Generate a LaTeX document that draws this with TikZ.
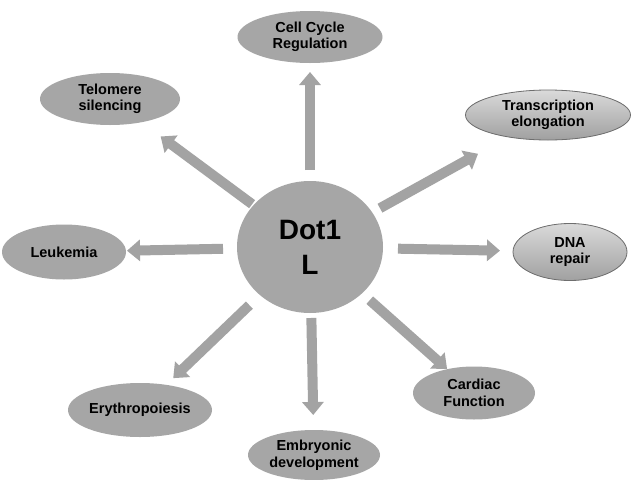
\documentclass[tikz,border=0pt]{standalone}
\usepackage{fontspec}
\setmainfont{Liberation Sans}
\usetikzlibrary{shapes.geometric,arrows.meta,calc}
\definecolor{fillgray}{HTML}{A6A6A6}
\definecolor{arrgray}{HTML}{A3A3A3}
\definecolor{edgegray}{HTML}{6E6E6E}
\definecolor{shinetop}{HTML}{DADADA}
\definecolor{shinebot}{HTML}{A0A0A0}
\begin{document}
\begin{tikzpicture}[x=1pt,y=-1pt,
  blob/.style={ellipse, fill=fillgray, inner sep=0pt, align=center,
    font=\bfseries\fontsize{14.5}{16.5}\selectfont},
  shiny/.style={blob, top color=shinetop, bottom color=shinebot, draw=edgegray, line width=0.8pt},
  arr/.style={draw=arrgray, line width=10pt, -{Triangle[width=21pt,length=13pt]}}]
\useasboundingbox (0,0) rectangle (633,480);
\fill[white] (0,0) rectangle (633,480);

\node[blob, minimum width=146pt, minimum height=132pt,
  font=\bfseries\fontsize{28}{35}\selectfont] (dot) at (310,247) {Dot1\\L};

\node[blob, minimum width=145pt, minimum height=52pt] (cell) at (310,37) {Cell Cycle\\Regulation};
\node[shiny, minimum width=165pt, minimum height=50pt] (trans) at (548,115) {Transcription\\elongation};
\node[blob, minimum width=140pt, minimum height=52pt] (telo) at (110,99) {Telomere\\silencing};
\node[blob, minimum width=124pt, minimum height=55pt] (leuk) at (64,252) {Leukemia};
\node[shiny, minimum width=114pt, minimum height=57pt] (dna) at (570,252) {DNA\\repair};
\node[blob, minimum width=144pt, minimum height=54pt] (eryth) at (140,410) {Erythropoiesis};
\node[blob, minimum width=132pt, minimum height=50pt] (embr) at (314,455) {Embryonic\\development};
\node[blob, minimum width=122pt, minimum height=53pt] (card) at (474,393) {Cardiac\\Function};

\draw[arr] ($(dot)!77pt!(cell)$) -- ($(cell)!35pt!(dot)$);
\draw[arr] ($(dot)!72pt!(telo)$) -- ($(telo)!63pt!(dot)$);
\draw[arr] ($(dot)!80pt!(trans)$) -- ($(trans)!80pt!(dot)$);
\draw[arr] ($(dot)!87pt!(leuk)$) -- ($(leuk)!63pt!(dot)$);
\draw[arr] ($(dot)!88pt!(dna)$) -- ($(dna)!70pt!(dot)$);
\draw[arr] ($(dot)!84pt!(eryth)$) -- ($(eryth)!46pt!(dot)$);
\draw[arr] ($(dot)!71pt!(embr)$) -- ($(embr)!40pt!(dot)$);
\draw[arr] ($(dot)!80pt!(card)$) -- ($(card)!36pt!(dot)$);
\end{tikzpicture}
\end{document}
